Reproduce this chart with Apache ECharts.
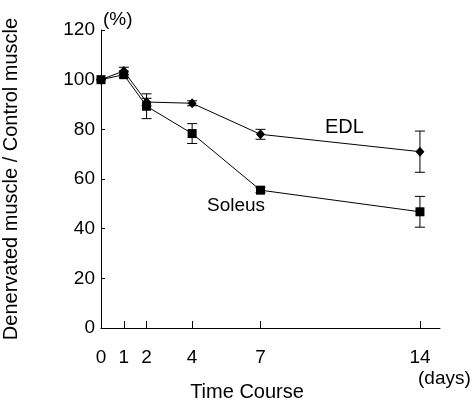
<!DOCTYPE html>
<html>
<head>
<meta charset="utf-8">
<script src="https://cdn.jsdelivr.net/npm/echarts@6/dist/echarts.min.js"></script>
<style>
  html, body { margin: 0; padding: 0; background: #fff; }
  #chart { width: 476px; height: 405px; }
</style>
</head>
<body>
<div id="chart"></div>
<script>
var days = [0, 1, 2, 4, 7, 14];
var edl = [100, 103.5, 91, 90.5, 78, 71];
var edlErr = [0, 1.5, 1.5, 1, 2, 8.3];
var soleus = [100, 102, 89.3, 78.3, 55.5, 46.8];
var soleusErr = [0, 1.2, 5, 4, 1, 6.2];

var font = 'Liberation Sans, Arial, sans-serif';

function pairs(ys) {
  return days.map(function (d, i) { return [d, ys[i]]; });
}
function errData(ys, es) {
  return days.map(function (d, i) { return [d, ys[i] - es[i], ys[i] + es[i]]; });
}

// vertical error bar with caps
function renderErr(params, api) {
  var x = api.value(0);
  var lo = api.coord([x, api.value(1)]);
  var hi = api.coord([x, api.value(2)]);
  var w = 5;
  var st = { stroke: '#000', lineWidth: 1 };
  return {
    type: 'group',
    children: [
      { type: 'line', shape: { x1: lo[0], y1: lo[1], x2: hi[0], y2: hi[1] }, style: st },
      { type: 'line', shape: { x1: lo[0] - w, y1: lo[1], x2: lo[0] + w, y2: lo[1] }, style: st },
      { type: 'line', shape: { x1: hi[0] - w, y1: hi[1], x2: hi[0] + w, y2: hi[1] }, style: st }
    ]
  };
}

var chart = echarts.init(document.getElementById('chart'));
var option = {
  animation: false,
  grid: { left: 101, top: 30, right: 36, bottom: 77, containLabel: false, outerBoundsMode: 'none' },
  xAxis: {
    type: 'value',
    min: 0,
    max: 14.88,
    splitLine: { show: false },
    axisLine: { lineStyle: { color: '#000', width: 1 } },
    axisTick: { inside: true, length: 7, customValues: days, lineStyle: { color: '#000' } },
    axisLabel: { customValues: days, color: '#000', fontSize: 19, fontFamily: font, margin: 20 }
  },
  yAxis: {
    type: 'value',
    min: 0,
    max: 120,
    interval: 20,
    splitLine: { show: false },
    axisLine: { show: true, lineStyle: { color: '#000', width: 1 } },
    axisTick: { show: true, inside: true, length: 4, lineStyle: { color: '#000' } },
    axisLabel: { color: '#000', fontSize: 19, fontFamily: font, margin: 6 },
    name: 'Denervated muscle / Control muscle',
    nameLocation: 'middle',
    nameGap: 80,
    nameTextStyle: { color: '#000', fontSize: 20, fontFamily: font }
  },
  graphic: [
    { type: 'text', x: 103, y: 10, style: { text: '(%)', fill: '#000', font: '19px ' + font } },
    { type: 'text', x: 418, y: 369, style: { text: '(days)', fill: '#000', font: '19px ' + font } },
    { type: 'text', x: 247, y: 392, style: { text: 'Time Course', fill: '#000', font: '20px ' + font, align: 'center', verticalAlign: 'middle' } },
    { type: 'text', x: 325, y: 117, style: { text: 'EDL', fill: '#000', font: '20px ' + font } },
    { type: 'text', x: 207, y: 196, style: { text: 'Soleus', fill: '#000', font: '19px ' + font } }
  ],
  series: [
    {
      name: 'EDL err', type: 'custom', renderItem: renderErr,
      data: errData(edl, edlErr), z: 1
    },
    {
      name: 'Soleus err', type: 'custom', renderItem: renderErr,
      data: errData(soleus, soleusErr), z: 1
    },
    {
      name: 'EDL', type: 'line', data: pairs(edl),
      symbol: 'diamond', symbolSize: [9, 10],
      lineStyle: { color: '#000', width: 1 },
      itemStyle: { color: '#000' }, z: 2
    },
    {
      name: 'Soleus', type: 'line', data: pairs(soleus),
      symbol: 'rect', symbolSize: 9,
      lineStyle: { color: '#000', width: 1 },
      itemStyle: { color: '#000' }, z: 3
    }
  ]
};
chart.setOption(option);
</script>
</body>
</html>
